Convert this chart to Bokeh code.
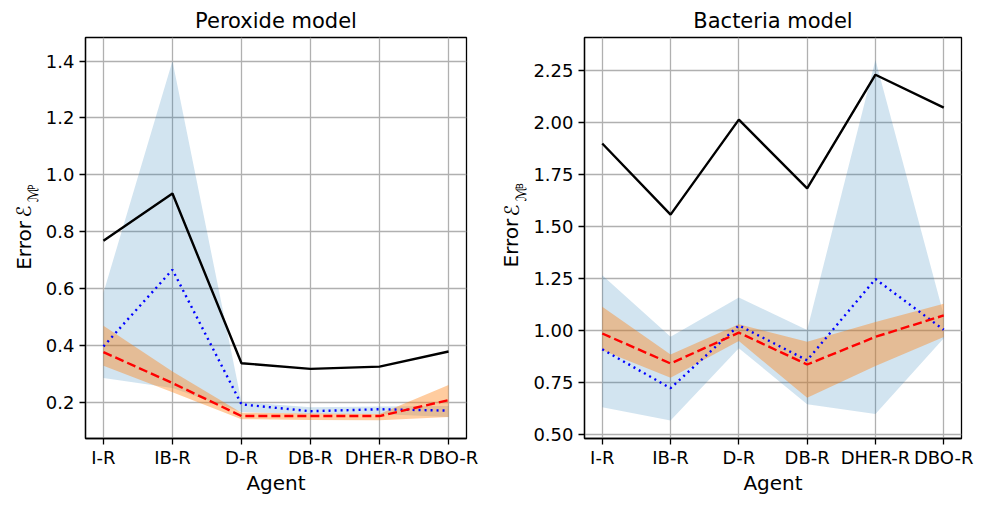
import math
from bokeh.plotting import figure
from bokeh.layouts import row
from bokeh.models import FixedTicker, Range1d
from bokeh.core.properties import value
from bokeh.embed import file_html
from bokeh.resources import INLINE

agents = ["I-R", "IB-R", "D-R", "DB-R", "DHER-R", "DBO-R"]

# Peroxide model
per_black = [0.768, 0.934, 0.337, 0.317, 0.325, 0.378]
per_blue = [0.396, 0.666, 0.192, 0.168, 0.175, 0.170]
per_blue_lo = [0.285, 0.250, 0.165, 0.158, 0.158, 0.148]
per_blue_hi = [0.585, 1.400, 0.200, 0.182, 0.185, 0.186]
per_red = [0.376, 0.267, 0.151, 0.151, 0.151, 0.207]
per_orange_lo = [0.328, 0.235, 0.140, 0.137, 0.136, 0.148]
per_orange_hi = [0.469, 0.308, 0.163, 0.160, 0.158, 0.260]
per_ticks = [0.2, 0.4, 0.6, 0.8, 1.0, 1.2, 1.4]
per_tick_labels = ["0.2", "0.4", "0.6", "0.8", "1.0", "1.2", "1.4"]

# Bacteria model
bac_black = [1.900, 1.558, 2.015, 1.684, 2.231, 2.073]
bac_blue = [0.910, 0.723, 1.025, 0.857, 1.248, 1.004]
bac_blue_lo = [0.631, 0.568, 0.915, 0.646, 0.599, 0.963]
bac_blue_hi = [1.266, 0.970, 1.159, 1.003, 2.302, 1.075]
bac_red = [0.986, 0.842, 0.990, 0.837, 0.970, 1.073]
bac_orange_lo = [0.905, 0.773, 0.950, 0.677, 0.830, 0.969]
bac_orange_hi = [1.115, 0.885, 1.030, 0.946, 1.042, 1.129]
bac_ticks = [0.5, 0.75, 1.0, 1.25, 1.5, 1.75, 2.0, 2.25]
bac_tick_labels = ["0.50", "0.75", "1.00", "1.25", "1.50", "1.75", "2.00", "2.25"]

xs = list(range(len(agents)))

H = 497
T = 37
B = 52
FONT = "DejaVu Sans"


def make(title, black, blue, blo, bhi, red, olo, ohi, yr, ticks, tlabels, W, L, R):
    p = figure(width=W, height=H, x_range=Range1d(-0.26, 5.26), y_range=Range1d(*yr),
               output_backend="svg", toolbar_location=None,
               min_border_left=L, min_border_right=R, min_border_top=T,
               min_border_bottom=B, title=title)
    p.title.text_font = FONT
    p.title.text_font_size = "21px"
    p.title.text_font_style = "normal"
    p.title.align = "center"
    p.title.standoff = 10
    p.title.text_color = "black"

    p.varea(x=xs, y1=blo, y2=bhi, fill_color="#1f77b4", fill_alpha=0.2)
    p.varea(x=xs, y1=olo, y2=ohi, fill_color="#ff7f0e", fill_alpha=0.4)
    p.line(xs, black, line_color="black", line_width=2.4)
    p.line(xs, blue, line_color="blue", line_width=2.4, line_dash="2 4")
    p.line(xs, red, line_color="red", line_width=2.4, line_dash="9 4")

    p.xaxis.ticker = FixedTicker(ticks=xs)
    p.xaxis.major_label_overrides = {i: a for i, a in enumerate(agents)}
    p.yaxis.ticker = FixedTicker(ticks=ticks)
    p.yaxis.major_label_overrides = {t: l for t, l in zip(ticks, tlabels)}
    p.xaxis.axis_label = "Agent"
    for ax in (p.xaxis, p.yaxis):
        ax.major_label_text_font = FONT
        ax.major_label_text_font_size = "18px"
        ax.major_label_text_color = "black"
        ax.axis_label_text_font = FONT
        ax.axis_label_text_font_size = "20px"
        ax.axis_label_text_font_style = "normal"
        ax.axis_label_text_color = "black"
        ax.minor_tick_line_color = None
        ax.major_tick_in = 0
        ax.major_tick_out = 6
        ax.major_tick_line_width = 1.3
        ax.major_tick_line_color = "black"
        ax.axis_line_color = "black"
        ax.axis_line_width = 1.3
    p.xaxis.major_label_standoff = 2
    p.yaxis.major_label_standoff = 5
    p.xaxis.axis_label_standoff = 0
    p.grid.grid_line_color = "#b0b0b0"
    p.grid.grid_line_width = 1.3
    p.outline_line_color = "black"
    p.outline_line_width = 1.3
    p.outline_line_alpha = 1.0
    return p


def ylabel_fig(W, parts):
    # narrow panel holding the rotated y-axis label "Error  E_{M_sub}"
    f = figure(width=W, height=H, x_range=Range1d(0, W), y_range=Range1d(0, H),
               output_backend="svg", toolbar_location=None, min_border=0,
               x_axis_location=None, y_axis_location=None)
    f.grid.visible = False
    f.outline_line_color = None
    for txt, cx, ybot, size in parts:
        f.text(x=[cx], y=[H - ybot], text=[txt], angle=math.pi / 2,
               text_align="left", text_baseline="middle", text_font=value(FONT),
               text_font_size=value(size), text_color="black")
    return f


lf1 = ylabel_fig(40, [("Error", 23.5, 288, "20px"), ("\u2130", 23.5, 223, "20px"),
                      ("\u2133", 32, 204, "14px"), ("P", 31, 189, "9px")])
p1 = make("Peroxide model", per_black, per_blue, per_blue_lo, per_blue_hi,
          per_red, per_orange_lo, per_orange_hi, (0.072, 1.483), per_ticks,
          per_tick_labels, 450, 45, 24)
lf2 = ylabel_fig(40, [("Error", 20.5, 285, "20px"), ("\u2130", 21, 222, "20px"),
                      ("\u2133", 30, 203, "14px"), ("B", 29.5, 188, "9px")])
p2 = make("Bacteria model", bac_black, bac_blue, bac_blue_lo, bac_blue_hi,
          bac_red, bac_orange_lo, bac_orange_hi, (0.481, 2.41), bac_ticks,
          bac_tick_labels, 445, 51, 14)

layout = row(lf1, p1, lf2, p2)
open("out.html", "w").write(file_html(layout, INLINE))
